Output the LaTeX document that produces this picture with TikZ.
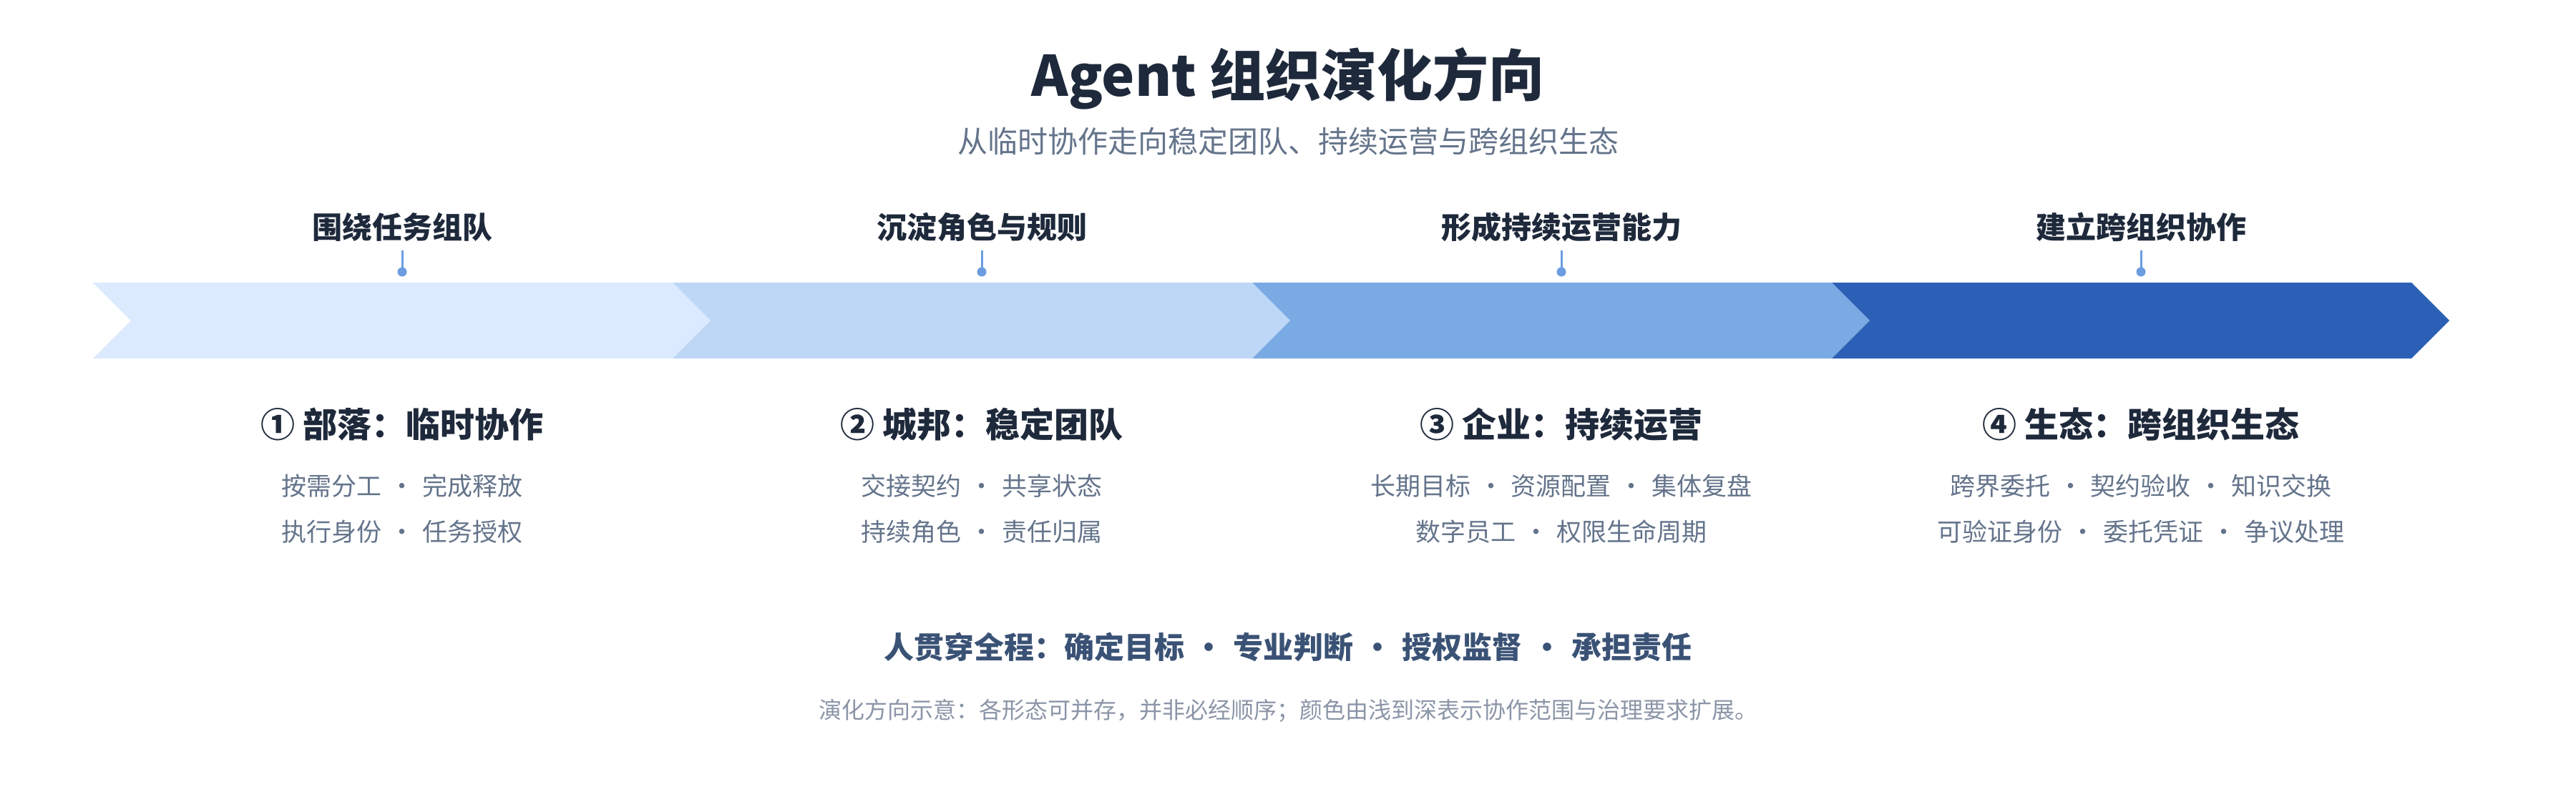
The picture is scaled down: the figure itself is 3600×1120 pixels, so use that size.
\documentclass[tikz,border=0pt]{standalone}
\usepackage{fontspec}
\setmainfont{Noto Sans CJK SC}
\definecolor{ctitle}{HTML}{1E293B}
\definecolor{csub}{HTML}{64748B}
\definecolor{cbot}{HTML}{3A5275}
\definecolor{cfoot}{HTML}{8B95A7}
\definecolor{cA}{HTML}{DBEAFE}
\definecolor{cB}{HTML}{BFD7F6}
\definecolor{cC}{HTML}{7AAAE3}
\definecolor{cD}{HTML}{2B60B6}
\definecolor{conn}{HTML}{6B9DE0}
\newcommand\sepdot{\hspace{0.31em}·\hspace{0.31em}}
\tikzset{
  txt/.style={anchor=base, inner sep=0pt, outer sep=0pt},
  titletxt/.style={txt, text=ctitle, font=\fontsize{78}{90}\selectfont\bfseries},
  subtxt/.style={txt, text=csub, font=\fontsize{42}{50}\selectfont},
  hdrtxt/.style={txt, text=ctitle, font=\fontsize{42}{50}\selectfont\bfseries},
  stagetxt/.style={txt, text=ctitle, font=\fontsize{48}{56}\selectfont\bfseries},
  itemtxt/.style={txt, text=csub, font=\fontsize{35}{42}\selectfont},
  bottxt/.style={txt, text=cbot, font=\fontsize{42}{50}\selectfont\bfseries},
  foottxt/.style={txt, text=cfoot, font=\fontsize{32}{38}\selectfont},
  dotnode/.style={circle, fill=conn, inner sep=0pt, minimum size=13pt},
  connline/.style={draw=conn, line width=3pt},
}
\begin{document}
\begin{tikzpicture}[x=1pt,y=-1pt]
\useasboundingbox[fill=white] (0,0) rectangle (3600,1120);

% title
\node[titletxt] (title) at (1800,134) {Agent 组织演化方向};
\node[subtxt] (subtitle) at (1800,213) {从临时协作走向稳定团队、持续运营与跨组织生态};

% chevrons
\foreach \i/\col in {0/cA,1/cB,2/cC,3/cD}{
  \pgfmathsetmacro\bx{130+810*\i}
  \fill[\col] (\bx,395) -- (\bx+810,395) -- (\bx+863,448) -- (\bx+810,501)
     -- (\bx,501) -- (\bx+53,448) -- cycle;
}

% headers and connectors
\node[hdrtxt] (h1) at (562,333) {围绕任务组队};
\node[hdrtxt] (h2) at (1372,333) {沉淀角色与规则};
\node[hdrtxt] (h3) at (2182,333) {形成持续运营能力};
\node[hdrtxt] (h4) at (2992,333) {建立跨组织协作};
\foreach \k/\x in {1/562,2/1372,3/2182,4/2992}{
  \coordinate (t\k) at (\x,350);
  \node[dotnode] (d\k) at (\x,380) {};
  \draw[connline] (t\k) -- (d\k.center);
}

% stages
\node[stagetxt] (s1) at (562,611) {① 部落：临时协作};
\node[stagetxt] (s2) at (1372,611) {② 城邦：稳定团队};
\node[stagetxt] (s3) at (2182,611) {③ 企业：持续运营};
\node[stagetxt] (s4) at (2992,611) {④ 生态：跨组织生态};

\node[itemtxt] (i1a) at (562,692) {按需分工\sepdot 完成释放};
\node[itemtxt] (i1b) at (562,756) {执行身份\sepdot 任务授权};
\node[itemtxt] (i2a) at (1372,692) {交接契约\sepdot 共享状态};
\node[itemtxt] (i2b) at (1372,756) {持续角色\sepdot 责任归属};
\node[itemtxt] (i3a) at (2182,692) {长期目标\sepdot 资源配置\sepdot 集体复盘};
\node[itemtxt] (i3b) at (2182,756) {数字员工\sepdot 权限生命周期};
\node[itemtxt] (i4a) at (2992,692) {跨界委托\sepdot 契约验收\sepdot 知识交换};
\node[itemtxt] (i4b) at (2992,756) {可验证身份\sepdot 委托凭证\sepdot 争议处理};

% bottom
\node[bottxt] (human) at (1800,920) {人贯穿全程：确定目标\sepdot 专业判断\sepdot 授权监督\sepdot 承担责任};
\node[foottxt] (foot) at (1800,1004) {演化方向示意：各形态可并存，并非必经顺序；颜色由浅到深表示协作范围与治理要求扩展。};
\end{tikzpicture}
\end{document}
